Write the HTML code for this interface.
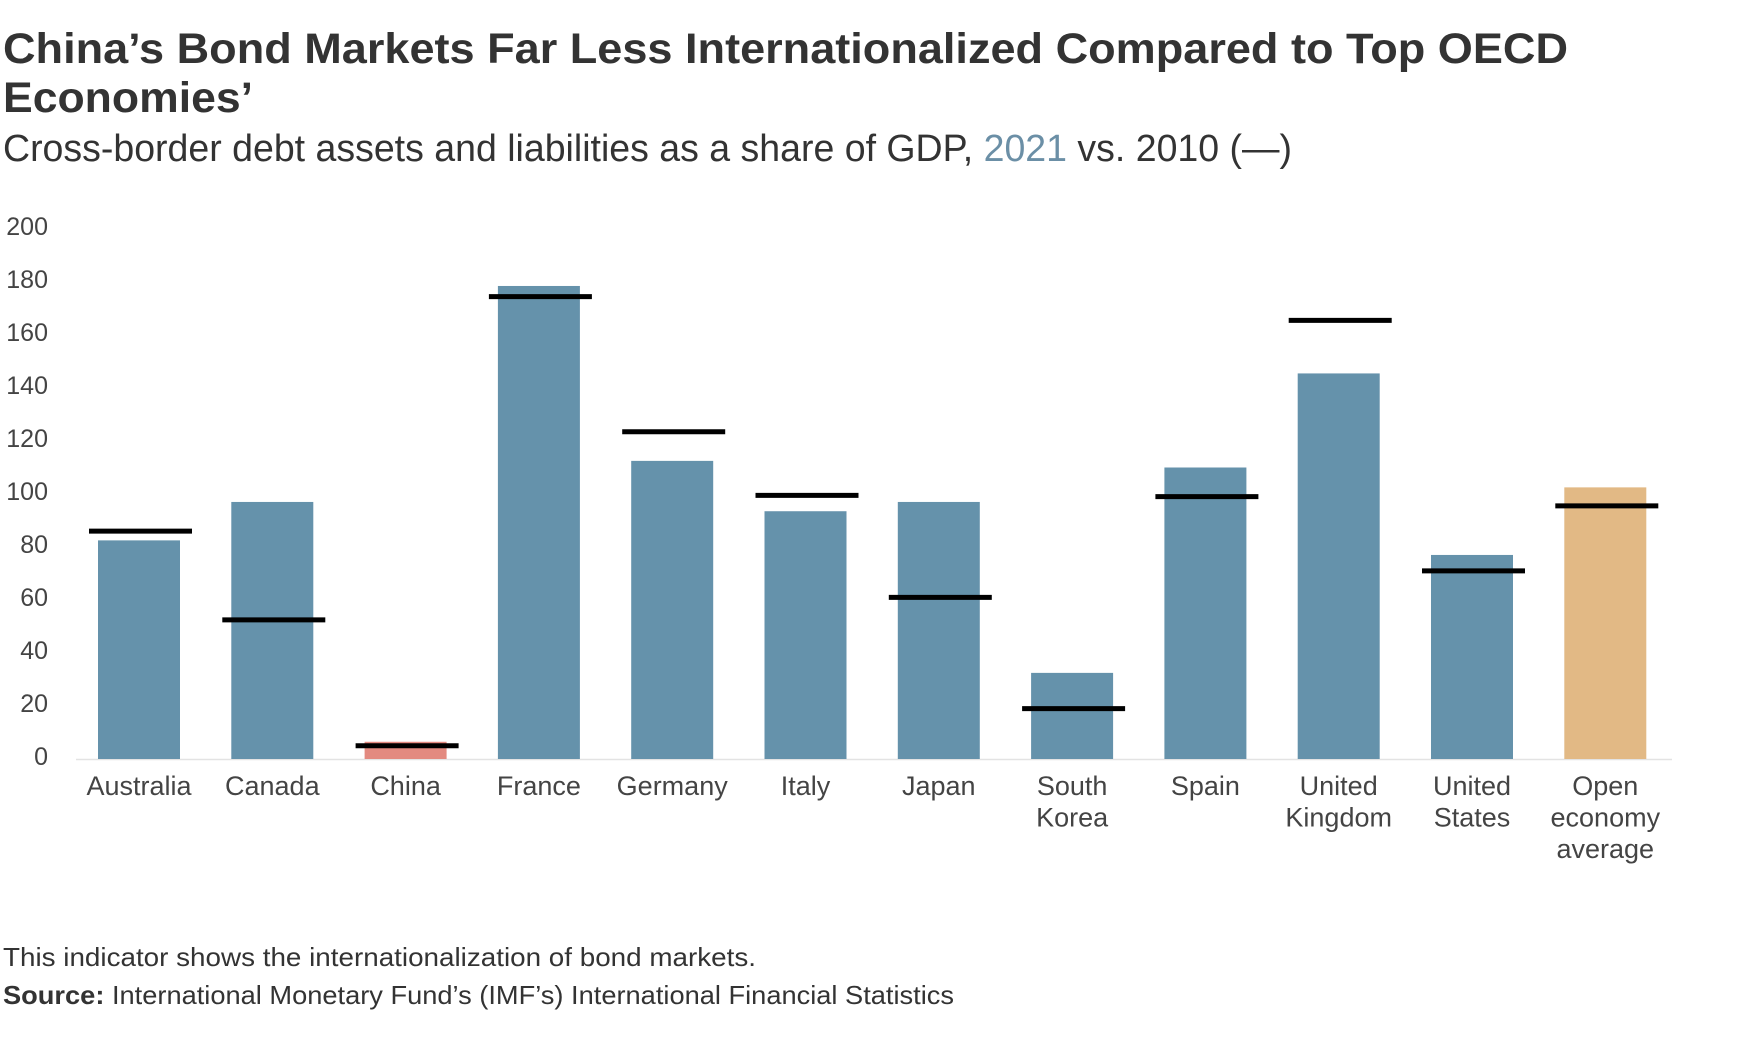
<!DOCTYPE html>
<html><head><meta charset="utf-8"><style>
body{margin:0;background:#fff;}
svg{display:block;font-family:"Source Sans Pro","Liberation Sans",sans-serif;}
</style></head><body>
<svg width="1738" height="1057" viewBox="0 0 1738 1057" xmlns="http://www.w3.org/2000/svg">
<text x="3" y="63" font-size="43" font-weight="bold" fill="#333" textLength="1565" lengthAdjust="spacingAndGlyphs">China’s Bond Markets Far Less Internationalized Compared to Top OECD</text>
<text x="3" y="112" font-size="43" font-weight="bold" fill="#333" textLength="250" lengthAdjust="spacingAndGlyphs">Economies’</text>
<text x="3" y="161" font-size="38" fill="#333" textLength="1289" lengthAdjust="spacingAndGlyphs">Cross-border debt assets and liabilities as a share of GDP, <tspan fill="#6b8fa6">2021</tspan> vs. 2010 (—)</text>
<g id="yaxis"></g>
<g id="bars"></g>
<g id="xlabels"></g>
<text x="3" y="966" font-size="26" fill="#333" textLength="753" lengthAdjust="spacingAndGlyphs">This indicator shows the internationalization of bond markets.</text>
<text x="3" y="1004" font-size="26" fill="#333" textLength="951" lengthAdjust="spacingAndGlyphs"><tspan font-weight="bold">Source:</tspan> International Monetary Fund’s (IMF’s) International Financial Statistics</text>
</svg>
<script>
const categories=[["Australia"],["Canada"],["China"],["France"],["Germany"],["Italy"],["Japan"],["South","Korea"],["Spain"],["United","Kingdom"],["United","States"],["Open","economy","average"]];
const values2021=[82.5,97,6.5,178.5,112.5,93.5,97,32.5,110,145.5,77,102.5];
const values2010=[86,52.5,5,174.5,123.5,99.5,61,19,99,165.5,71,95.5];
const colors=["#6592ab","#6592ab","#e38a80","#6592ab","#6592ab","#6592ab","#6592ab","#6592ab","#6592ab","#6592ab","#6592ab","#e2b985"];
const yTicks=[0,20,40,60,80,100,120,140,160,180,200];
const NS="http://www.w3.org/2000/svg";
const y0=759,yMax=229,vMax=200;
function y(v){return y0-(y0-yMax)*v/vMax;}
function x(i){return 139+i*133.3;}
function mk(tag,attrs,parent){const e=document.createElementNS(NS,tag);for(const k in attrs)e.setAttribute(k,attrs[k]);parent.appendChild(e);return e;}
const ya=document.getElementById('yaxis');
yTicks.forEach(t=>{
 const e=mk('text',{x:48,y:y(t)+6,'font-size':25,fill:'#444','text-anchor':'end'},ya);
 
 
 e.textContent=t;
});
const axl=mk('line',{x1:76,x2:1672,y1:y0+0.5,y2:y0+0.5,stroke:'#e3e3e3','stroke-width':1.5},ya);


const bg=document.getElementById('bars');
values2021.forEach((v,i)=>{
 const r=mk('rect',{x:x(i)-41,y:y(v),width:82,height:y0-y(v),fill:colors[i]},bg);
 
 
});
values2010.forEach((v,i)=>{
 const l=mk('line',{x1:x(i)-50,x2:x(i)+53,y1:y(v),y2:y(v),stroke:'#000','stroke-width':5},bg);
 
 
});
const xl=document.getElementById('xlabels');
categories.forEach((c,i)=>{
 c.forEach((line,j)=>{
  const t=mk('text',{x:x(i),y:795+j*31.5,'font-size':27,fill:'#444','text-anchor':'middle'},xl);
  
  
  t.textContent=line;
 });
});
</script>
</body></html>
